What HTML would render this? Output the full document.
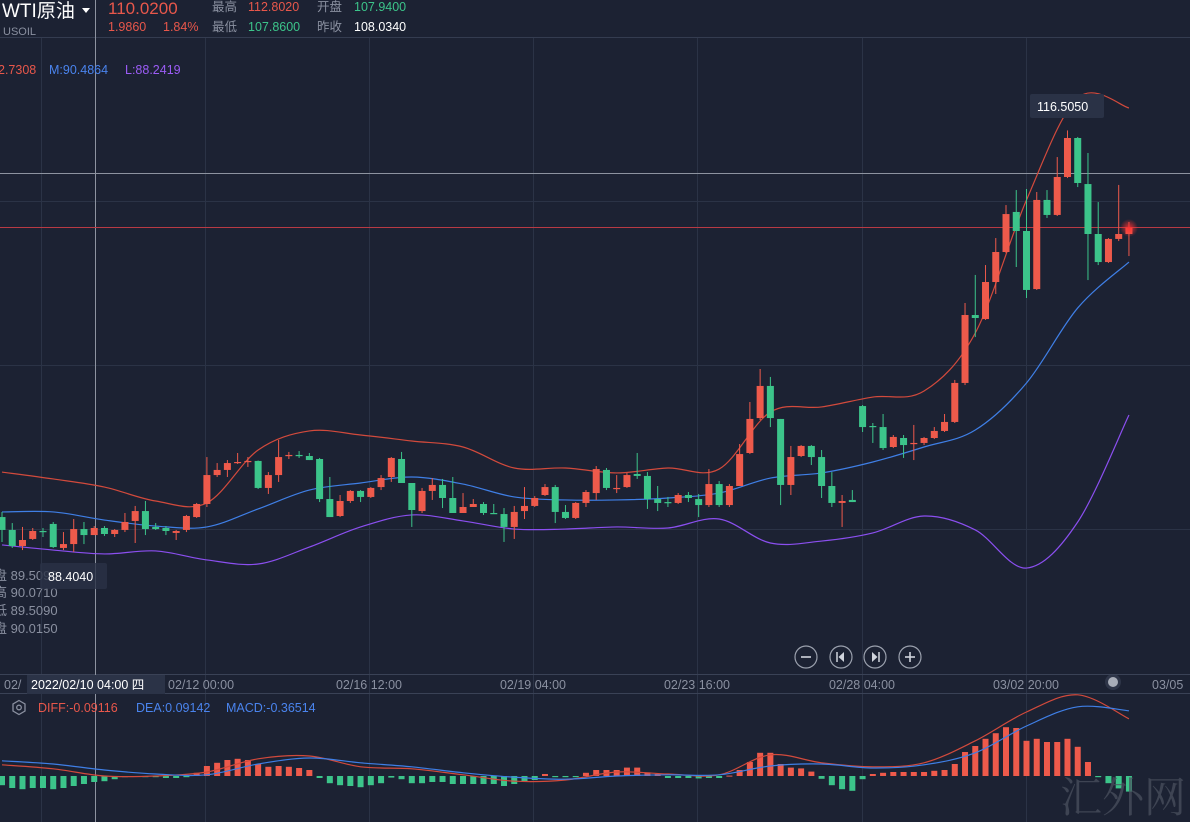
<!DOCTYPE html>
<html><head><meta charset="utf-8">
<style>
html,body{margin:0;padding:0;background:#1c2233;}
svg{display:block;font-family:"Liberation Sans","Noto Sans CJK SC",sans-serif;}
</style></head>
<body>
<svg id="chart" width="1190" height="822" viewBox="0 0 1190 822" xmlns="http://www.w3.org/2000/svg">
<defs>
<radialGradient id="glow"><stop offset="0" stop-color="#ff3030" stop-opacity="0.9"/><stop offset="1" stop-color="#ff3030" stop-opacity="0"/></radialGradient>
</defs>
<rect x="0" y="0" width="1190" height="822" fill="#1c2233"/>
<g id="grid" stroke="#2b3346" stroke-width="1">
<line x1="41.5" y1="37" x2="41.5" y2="822"/><line x1="205.5" y1="37" x2="205.5" y2="822"/>
<line x1="369.5" y1="37" x2="369.5" y2="822"/><line x1="533.5" y1="37" x2="533.5" y2="822"/>
<line x1="697.5" y1="37" x2="697.5" y2="822"/><line x1="862.5" y1="37" x2="862.5" y2="822"/>
<line x1="1026.5" y1="37" x2="1026.5" y2="822"/>
<line x1="0" y1="201.5" x2="1190" y2="201.5"/><line x1="0" y1="365.5" x2="1190" y2="365.5"/><line x1="0" y1="529.5" x2="1190" y2="529.5"/>
</g>
<line x1="0" y1="37.5" x2="1190" y2="37.5" stroke="#343c50"/>
<line x1="0" y1="674.5" x2="1190" y2="674.5" stroke="#3a4256"/>
<line x1="0" y1="693.5" x2="1190" y2="693.5" stroke="#3a4256"/>
<line x1="0" y1="173.5" x2="1190" y2="173.5" stroke="#8d93a0" stroke-width="1"/>
<line x1="95.5" y1="0" x2="95.5" y2="822" stroke="#8d93a0" stroke-width="1"/>
<line x1="0" y1="227.5" x2="1190" y2="227.5" stroke="#b83a44" stroke-width="1"/>

<g id="boll"></g>
<g id="candles"></g>
<g id="macd"></g>

<circle cx="1129" cy="228" r="9" fill="url(#glow)"/>

<!-- header -->
<text x="2" y="17" fill="#ffffff" font-size="19">WTI原油</text>
<path d="M82 8 L90 8 L86 13 Z" fill="#ffffff"/>
<text x="3" y="35" fill="#8a90a0" font-size="11">USOIL</text>
<text x="108" y="14" fill="#e8574b" font-size="17">110.0200</text>
<text x="108" y="31" fill="#e8574b" font-size="12.5">1.9860</text>
<text x="163" y="31" fill="#e8574b" font-size="12.5">1.84%</text>
<text x="212" y="11" fill="#8a90a0" font-size="12.5">最高</text>
<text x="248" y="11" fill="#e8574b" font-size="12.5">112.8020</text>
<text x="317" y="11" fill="#8a90a0" font-size="12.5">开盘</text>
<text x="354" y="11" fill="#3cc48a" font-size="12.5">107.9400</text>
<text x="212" y="31" fill="#8a90a0" font-size="12.5">最低</text>
<text x="248" y="31" fill="#3cc48a" font-size="12.5">107.8600</text>
<text x="317" y="31" fill="#8a90a0" font-size="12.5">昨收</text>
<text x="354" y="31" fill="#ffffff" font-size="12.5">108.0340</text>

<text x="-2" y="74" fill="#e8574b" font-size="12.5">2.7308</text>
<text x="49" y="74" fill="#4a84ee" font-size="12.5">M:90.4864</text>
<text x="125" y="74" fill="#9b5cf5" font-size="12.5">L:88.2419</text>

<g fill="#8a90a0" font-size="13">
<text x="-6" y="580">盘 89.5090</text>
<text x="-6" y="597">高 90.0710</text>
<text x="-6" y="615">低 89.5090</text>
<text x="-6" y="633">盘 90.0150</text>
</g>
<rect x="40" y="563" width="67" height="26" rx="2" fill="#2a3246" opacity="0.8"/>
<text x="48" y="581" fill="#ffffff" font-size="12.5">88.4040</text>
<rect x="1030" y="94" width="74" height="24" rx="2" fill="#2a3246"/>
<text x="1037" y="111" fill="#ffffff" font-size="12.5">116.5050</text>

<!-- zoom controls -->
<g fill="none" stroke="#9aa0ad" stroke-width="1.2">
<circle cx="806" cy="657" r="11"/>
<circle cx="841" cy="657" r="11"/>
<circle cx="875" cy="657" r="11"/>
<circle cx="910" cy="657" r="11"/>
</g>
<g fill="#d0d4dc" stroke="#d0d4dc" stroke-width="1.6">
<line x1="801" y1="657" x2="811" y2="657"/>
<line x1="905" y1="657" x2="915" y2="657"/><line x1="910" y1="652" x2="910" y2="662"/>
<line x1="837" y1="652" x2="837" y2="662" stroke-width="1.5"/><path d="M844 652 L838.5 657 L844 662 Z" stroke="none"/>
<line x1="879" y1="652" x2="879" y2="662" stroke-width="1.5"/><path d="M872 652 L877.5 657 L872 662 Z" stroke="none"/>
</g>

<!-- time axis -->
<g fill="#8a90a0" font-size="12.5">
<text x="4" y="689">02/</text>
<text x="168" y="689">02/12 00:00</text>
<text x="369" y="689" text-anchor="middle">02/16 12:00</text>
<text x="533" y="689" text-anchor="middle">02/19 04:00</text>
<text x="697" y="689" text-anchor="middle">02/23 16:00</text>
<text x="862" y="689" text-anchor="middle">02/28 04:00</text>
<text x="1026" y="689" text-anchor="middle">03/02 20:00</text>
<text x="1152" y="689">03/05</text>
</g>
<rect x="27" y="675" width="138" height="19" fill="#2b3347"/>
<text x="31" y="689" fill="#ffffff" font-size="12.5">2022/02/10 04:00 四</text>
<circle cx="1113" cy="682" r="8" fill="#3a4256" opacity="0.6"/>
<circle cx="1113" cy="682" r="5" fill="#a8adb8"/>

<!-- macd legend -->
<g fill="none" stroke="#8a90a0" stroke-width="1.3">
<path d="M19 700.5 L25 704 L25 711 L19 714.5 L13 711 L13 704 Z"/><circle cx="19" cy="707.5" r="2.3"/>
</g>
<text x="38" y="712" fill="#e8574b" font-size="12.5">DIFF:-0.09116</text>
<text x="136" y="712" fill="#4a84ee" font-size="12.5">DEA:0.09142</text>
<text x="226" y="712" fill="#4a84ee" font-size="12.5">MACD:-0.36514</text>

<text x="1060" y="812" fill="#4a505e" font-size="42" font-family="'Noto Serif CJK SC','Liberation Serif',serif" opacity="0.75">汇外网</text>
</svg>
<script>
const opens=[90.73,89.87,88.8,89.27,89.8,90.27,88.67,88.93,89.93,89.53,90.0,89.6,89.87,90.47,91.13,90.07,90.0,89.67,89.87,90.73,91.6,93.53,93.87,94.33,94.4,94.47,92.67,93.53,94.8,94.87,94.8,94.6,91.93,90.8,91.8,92.47,92.07,92.73,93.4,94.6,93.0,91.13,92.47,92.87,92.0,91.0,91.4,91.6,91.0,90.93,90.07,91.13,91.47,92.2,92.73,91.07,90.67,91.67,92.33,93.87,92.6,92.73,93.6,93.47,91.93,91.73,91.67,92.2,91.93,91.53,92.93,91.53,92.8,95.0,97.33,99.47,97.27,92.87,94.8,95.47,94.73,92.8,91.67,91.87,98.13,96.8,96.73,95.4,96.0,95.6,95.67,96.0,96.47,97.07,99.67,104.2,103.93,106.4,108.4,111.07,109.8,105.93,111.87,110.87,113.4,116.0,112.93,109.6,107.73,109.27,109.6];
const highs=[91.07,90.33,90.07,90.0,90.0,90.4,89.73,90.6,90.4,90.13,90.13,89.93,91.0,91.47,91.8,90.33,90.13,89.87,90.87,91.67,94.73,94.33,94.53,95.0,94.73,94.5,93.73,95.87,95.07,95.13,95.0,94.67,93.4,92.2,92.53,92.53,92.73,93.53,94.73,95.07,93.0,92.67,93.33,93.27,93.4,92.33,91.93,91.73,91.6,91.33,91.47,92.73,92.13,92.93,92.87,91.53,91.73,92.53,94.13,94.0,93.53,93.67,95.0,93.73,92.8,92.07,92.33,92.4,92.27,93.93,93.13,92.93,95.6,98.4,100.6,100.07,97.27,95.47,95.53,95.53,95.2,93.73,92.2,92.53,98.2,97.0,97.6,96.2,96.2,96.87,96.07,96.73,97.6,99.87,105.0,106.87,107.53,109.33,111.53,112.53,112.6,112.4,112.53,114.73,116.505,116.07,115.0,111.73,109.33,112.87,110.4];
const lows=[89.07,88.67,88.53,89.2,89.4,88.67,88.53,88.404,88.93,89.53,89.47,89.4,89.73,89.0,89.53,89.87,89.53,89.2,89.73,90.67,91.4,93.4,93.4,94.27,94.07,92.6,92.27,93.07,94.6,94.67,94.53,91.73,90.73,90.73,91.67,91.73,92.0,92.53,93.07,93.0,90.07,91.0,91.87,91.33,91.0,91.0,91.4,90.87,90.93,89.07,89.27,90.6,91.4,92.13,90.33,90.6,90.6,91.4,91.87,92.53,92.33,92.67,93.27,91.27,91.13,91.4,91.6,91.73,90.73,91.4,91.4,91.4,92.8,94.93,97.2,96.73,91.53,92.2,94.73,94.2,92.0,91.4,90.07,91.73,96.4,95.67,95.2,95.33,94.67,94.53,95.53,95.93,96.4,97.0,99.53,102.73,103.87,105.6,108.33,107.4,105.33,105.87,110.67,110.8,113.33,112.73,106.53,107.53,107.67,109.13,108.13];
const closes=[89.87,88.8,89.2,89.8,89.73,88.73,88.93,89.93,89.53,90.0,89.6,89.87,90.4,91.13,89.93,89.93,89.8,89.8,90.8,91.6,93.53,93.87,94.33,94.4,94.47,92.67,93.53,94.73,94.87,94.8,94.53,91.93,90.73,91.8,92.47,92.07,92.67,93.33,94.67,93.0,91.2,92.47,92.87,92.0,91.0,91.4,91.6,91.0,90.93,90.07,91.07,91.47,92.0,92.73,91.07,90.67,91.67,92.4,93.93,92.67,92.67,93.53,93.47,91.93,91.67,91.67,92.2,92.0,91.53,92.93,91.53,92.8,94.93,97.27,99.47,97.33,92.87,94.73,95.47,94.73,92.8,91.67,91.8,91.73,96.73,96.73,95.33,96.07,95.53,95.67,96.0,96.47,97.07,99.67,104.2,104.0,106.4,108.4,110.93,109.8,105.87,111.87,110.87,113.4,116.0,113.0,109.6,107.73,109.27,109.6,110.02];
// Bollinger bands sampled every 5 bars
const bandIdx=[0,5,10,15,20,25,30,35,40,45,50,55,60,65,70,75,80,85,90,95,100,105,110];
const bollUpper=[93.73,93.27,92.73,91.8,91.67,95.2,96.47,96.2,95.8,95.4,94.0,94.0,93.67,94.0,93.93,97.73,98.07,98.73,99.13,103.0,111.87,118.67,118.0];
const bollMid=[91.07,91.07,90.53,90.13,90.07,91.27,92.53,93.0,93.4,92.93,92.07,91.87,91.87,92.0,92.33,93.33,93.67,94.4,95.4,96.53,99.67,104.67,107.73];
const bollLower=[88.87,88.53,88.27,88.47,87.87,87.6,88.73,90.07,90.87,90.47,89.93,89.93,90.07,90.0,90.6,89.0,89.13,89.67,90.8,89.87,87.33,90.4,97.53];
// MACD
const macdHist=[-0.23,-0.3,-0.33,-0.3,-0.3,-0.33,-0.3,-0.25,-0.2,-0.15,-0.13,-0.08,-0.03,0,-0.03,-0.03,-0.05,-0.05,-0.03,0.08,0.25,0.33,0.4,0.43,0.4,0.3,0.23,0.25,0.23,0.2,0.15,-0.05,-0.18,-0.23,-0.25,-0.28,-0.23,-0.18,-0.04,-0.08,-0.18,-0.18,-0.15,-0.15,-0.2,-0.2,-0.2,-0.2,-0.2,-0.25,-0.2,-0.15,-0.1,0.05,-0.03,-0.03,-0.03,0.08,0.15,0.15,0.15,0.21,0.21,0.09,0.05,-0.05,-0.05,-0.05,-0.06,-0.05,-0.05,0.01,0.15,0.35,0.58,0.58,0.3,0.21,0.19,0.11,-0.07,-0.23,-0.33,-0.37,-0.08,0.05,0.08,0.1,0.1,0.1,0.1,0.13,0.15,0.3,0.6,0.75,0.93,1.07,1.22,1.2,0.88,0.93,0.85,0.85,0.93,0.73,0.35,-0.03,-0.18,-0.31,-0.39];
const macdDiff=[0.28,0.18,0,0,0.1,0.43,0.5,0.23,0.18,0.03,-0.13,-0.1,0.1,0.05,0.03,0.53,0.33,0.23,0.33,0.88,1.6,2.03,1.43];
const macdDea=[0.38,0.3,0.15,0.05,0.03,0.3,0.45,0.33,0.23,0.08,-0.03,-0.08,0,0.03,0.03,0.25,0.3,0.2,0.28,0.58,1.25,1.73,1.63];

const NS='http://www.w3.org/2000/svg';
const RED='#ee5a4b', GREEN='#3cc48a';
function xAt(i){return 2+i*10.245;}
function yPrice(p){return (125.2-p)*15;}
function yMacd(v){return 776-v*40;}
function mk(tag,attrs,parent){const e=document.createElementNS(NS,tag);for(const k in attrs)e.setAttribute(k,attrs[k]);parent.appendChild(e);return e;}

const cg=document.getElementById('candles');
for(let i=0;i<opens.length;i++){
  const up=closes[i]>=opens[i];const col=up?RED:GREEN;const x=xAt(i);
  const w=mk('line',{x1:x,x2:x,y1:yPrice(highs[i]),y2:yPrice(lows[i]),stroke:col,'stroke-width':1},cg);
  
  
  const t=yPrice(Math.max(opens[i],closes[i])),b=yPrice(Math.min(opens[i],closes[i]));
  const r=mk('rect',{x:x-3.5,y:t,width:7,height:Math.max(1.2,b-t),fill:col},cg);
  
  
}
const bg=document.getElementById('boll');
function band(arr,col,name,yf,parent){
  const pts=arr.map((v,k)=>[xAt(bandIdx[k]),yf(v)]);
  let d='M'+pts[0][0]+' '+pts[0][1];
  for(let k=0;k<pts.length-1;k++){
    const p0=pts[Math.max(0,k-1)],p1=pts[k],p2=pts[k+1],p3=pts[Math.min(pts.length-1,k+2)];
    const c1x=p1[0]+(p2[0]-p0[0])/6,c1y=p1[1]+(p2[1]-p0[1])/6,c2x=p2[0]-(p3[0]-p1[0])/6,c2y=p2[1]-(p3[1]-p1[1])/6;
    d+=' C'+c1x+' '+c1y+' '+c2x+' '+c2y+' '+p2[0]+' '+p2[1];
  }
  const e=mk('path',{d:d,fill:'none',stroke:col,'stroke-width':1.2},parent);
  
  
}
band(bollUpper,'#d24a3c','boll-upper-line',yPrice,bg);
band(bollMid,'#3f7fe6','boll-mid-line',yPrice,bg);
band(bollLower,'#8b4ff0','boll-lower-line',yPrice,bg);

const mg=document.getElementById('macd');
for(let i=0;i<macdHist.length;i++){
  const v=macdHist[i];const x=xAt(i);const y0=yMacd(0),y1=yMacd(v);
  const r=mk('rect',{x:x-3,y:Math.min(y0,y1),width:6,height:Math.max(1,Math.abs(y1-y0)),fill:v>=0?RED:GREEN},mg);
  
  
}
band(macdDiff,'#d24a3c','macd-diff-line',yMacd,mg);
band(macdDea,'#3f7fe6','macd-dea-line',yMacd,mg);
</script>
</body></html>
